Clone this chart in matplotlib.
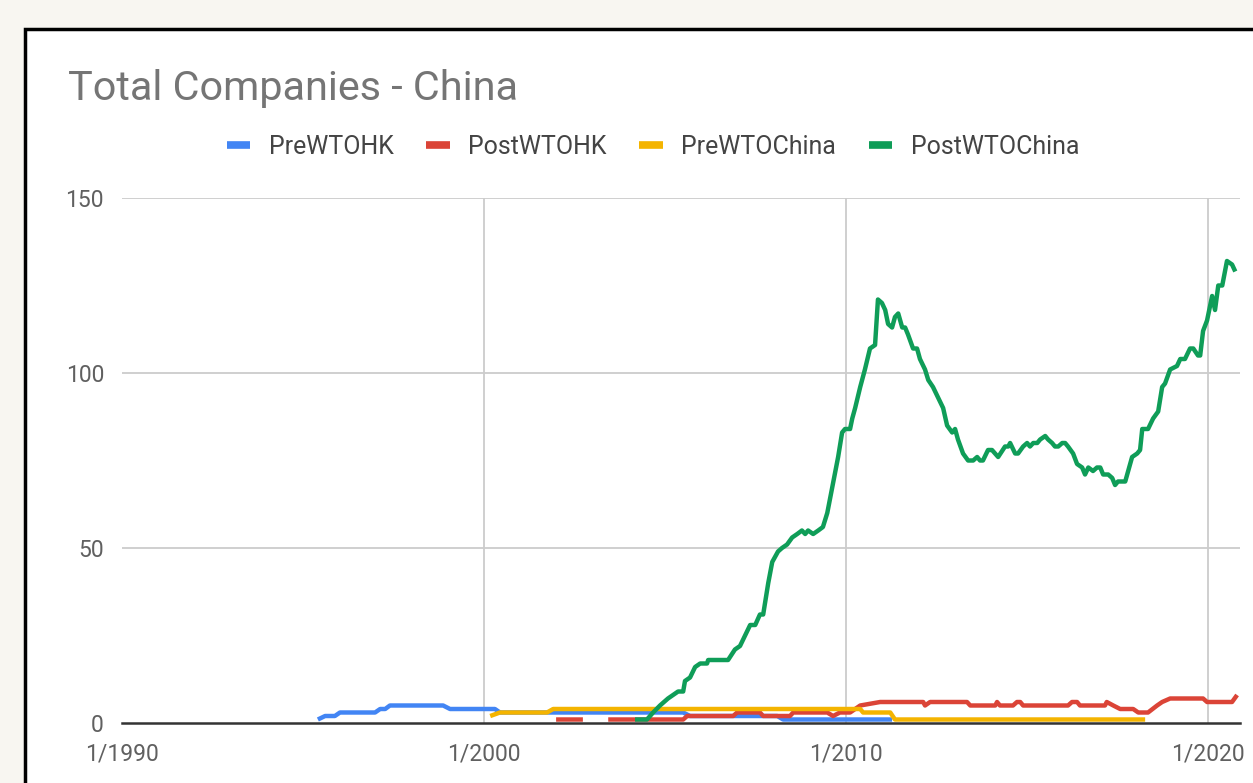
import numpy as np
import matplotlib
matplotlib.use("Agg")
import matplotlib.pyplot as plt
from matplotlib.patches import Rectangle

# === DATA (decimal years, number of companies) ===
nan = np.nan

pre_hk_years = [1995.41, 1995.61, 1995.88, 1996.02, 1996.99, 1997.13, 1997.27, 1997.40,
                1998.87, 1999.06, 2000.30, 2000.44, 2005.50, 2005.69, 2008.10, 2008.26,
                2011.27]
pre_hk_vals = [1, 2, 2, 3, 3, 4, 4, 5,
               5, 4, 4, 3, 3, 2, 2, 1,
               1]

post_hk_years = [2001.99, 2002.73, 2003.0, 2003.43, 2005.50, 2005.61, 2006.88, 2006.99,
                 2007.62, 2007.71, 2008.45, 2008.54, 2009.48, 2009.64, 2009.83, 2010.11,
                 2010.39, 2010.94, 2012.13, 2012.18, 2012.32, 2013.34, 2013.43, 2014.12,
                 2014.17, 2014.25, 2014.61, 2014.72, 2014.81, 2014.89, 2016.13, 2016.24,
                 2016.38, 2016.46, 2017.15, 2017.20, 2017.38, 2017.57, 2017.93, 2018.07,
                 2018.34, 2018.59, 2018.73, 2018.95, 2019.86, 2019.97, 2020.66, 2020.80]
post_hk_vals = [1, 1, nan, 1, 1, 2, 2, 3,
                3, 2, 2, 3, 3, 2, 3, 3,
                5, 6, 6, 5, 6, 6, 5, 5,
                6, 5, 5, 6, 6, 5, 5, 6,
                6, 5, 5, 6, 5, 4, 4, 3,
                3, 5, 6, 7, 7, 6, 6, 8]

pre_cn_years = [2000.17, 2000.44, 2001.74, 2001.91, 2010.39, 2010.47, 2011.22, 2011.35,
                2018.26]
pre_cn_vals = [2, 3, 3, 4, 4, 3, 3, 1,
               1]

post_cn_years = [2004.17, 2004.50, 2004.67, 2004.86, 2005.08, 2005.36, 2005.50, 2005.55,
                 2005.69, 2005.83, 2005.97, 2006.16, 2006.19, 2006.74, 2006.93, 2007.07,
                 2007.21, 2007.35, 2007.49, 2007.62, 2007.71, 2007.82, 2007.85, 2007.96,
                 2008.12, 2008.23, 2008.37, 2008.51, 2008.65, 2008.78, 2008.87, 2008.95,
                 2009.09, 2009.23, 2009.36, 2009.48, 2009.61, 2009.78, 2009.89, 2009.97,
                 2010.11, 2010.17, 2010.25, 2010.39, 2010.52, 2010.66, 2010.80, 2010.88,
                 2010.99, 2011.08, 2011.16, 2011.27, 2011.35, 2011.44, 2011.55, 2011.63,
                 2011.71, 2011.85, 2011.96, 2012.04, 2012.18, 2012.27, 2012.40, 2012.54,
                 2012.68, 2012.79, 2012.93, 2013.01, 2013.09, 2013.23, 2013.37, 2013.51,
                 2013.62, 2013.70, 2013.78, 2013.92, 2014.03, 2014.20, 2014.39, 2014.48,
                 2014.53, 2014.67, 2014.75, 2014.89, 2015.00, 2015.08, 2015.17, 2015.28,
                 2015.36, 2015.50, 2015.58, 2015.69, 2015.77, 2015.86, 2015.97, 2016.05,
                 2016.13, 2016.27, 2016.38, 2016.52, 2016.60, 2016.69, 2016.82, 2016.93,
                 2017.02, 2017.10, 2017.24, 2017.35, 2017.43, 2017.51, 2017.71, 2017.90,
                 2018.04, 2018.12, 2018.18, 2018.34, 2018.48, 2018.62, 2018.73, 2018.81,
                 2018.95, 2019.14, 2019.23, 2019.36, 2019.50, 2019.59, 2019.72, 2019.78,
                 2019.86, 2019.97, 2020.11, 2020.19, 2020.28, 2020.39, 2020.52, 2020.66,
                 2020.75]
post_cn_vals = [1, 1, 3, 5, 7, 9, 9, 12,
                13, 16, 17, 17, 18, 18, 21, 22,
                25, 28, 28, 31, 31, 38, 40, 46,
                49, 50, 51, 53, 54, 55, 54, 55,
                54, 55, 56, 60, 67, 76, 83, 84,
                84, 87, 90, 96, 101, 107, 108, 121,
                120, 118, 114, 113, 116, 117, 113, 113,
                111, 107, 107, 104, 101, 98, 96, 93,
                90, 85, 83, 84, 81, 77, 75, 75,
                76, 75, 75, 78, 78, 76, 79, 79,
                80, 77, 77, 79, 80, 79, 80, 80,
                81, 82, 81, 80, 79, 79, 80, 80,
                79, 77, 74, 73, 71, 73, 72, 73,
                73, 71, 71, 70, 68, 69, 69, 76,
                77, 78, 84, 84, 87, 89, 96, 97,
                101, 102, 104, 104, 107, 107, 105, 105,
                112, 115, 122, 118, 125, 125, 132, 131,
                129]

series = [
    ("PreWTOHK", pre_hk_years, pre_hk_vals, "#4285F4"),
    ("PostWTOHK", post_hk_years, post_hk_vals, "#DB4437"),
    ("PreWTOChina", pre_cn_years, pre_cn_vals, "#F4B400"),
    ("PostWTOChina", post_cn_years, post_cn_vals, "#0F9D58"),
]

x_ticks = [1990, 2000, 2010, 2020]
x_labels = ["1/1990", "1/2000", "1/2010", "1/2020"]
y_ticks = [0, 50, 100, 150]

# === FIGURE ===
plt.rcParams["font.family"] = ["Roboto", "DejaVu Sans"]
W, H = 1253, 783
fig = plt.figure(figsize=(W / 100, H / 100), dpi=100, facecolor="#f8f6f1")

# white card with black border (behind everything)
card = Rectangle((25 / W, -0.2), 1.2, 1.2 - 29 / H, transform=fig.transFigure,
                 facecolor="white", edgecolor="black", linewidth=2.5, zorder=-10)
fig.patches.append(card)

ax = fig.add_axes([122 / W, 1 - 723 / H, (1240 - 122) / W, (723 - 198) / H])
ax.set_zorder(5)
ax.set_facecolor("white")
ax.set_xlim(1990, 2020.88)
ax.set_ylim(0, 150)

for y in y_ticks[1:]:
    ax.axhline(y, color="#cccccc", lw=1.3, zorder=1)
for x in x_ticks[1:]:
    ax.axvline(x, color="#cccccc", lw=1.3, zorder=1)
ax.axhline(0, color="#333333", lw=1.8, zorder=2, clip_on=False)

for name, xs, ys, col in series:
    ax.plot(xs, ys, color=col, lw=3.2, label=name, zorder=3,
            solid_joinstyle="round", solid_capstyle="butt")

for s in ax.spines.values():
    s.set_visible(False)
ax.set_xticks(x_ticks)
ax.set_xticklabels(x_labels)
ax.set_yticks(y_ticks)
ax.tick_params(length=0, labelsize=16.5, labelcolor="#606060")
ax.tick_params(axis="x", pad=14)
ax.tick_params(axis="y", pad=13)

fig.text(68 / W, 1 - 88 / H, "Total Companies - China", fontsize=29.8,
         color="#757575", va="center", ha="left")

handles, labels = ax.get_legend_handles_labels()
leg = fig.legend(handles, labels, loc="center", bbox_to_anchor=(653 / W, 1 - 147 / H),
                 ncol=4, frameon=False, fontsize=17.9, handlelength=0.95,
                 handletextpad=0.75, columnspacing=1.3)
for line in leg.get_lines():
    line.set_linewidth(5.5)
for t in leg.get_texts():
    t.set_color("#444444")

fig.savefig("out.png", dpi=100, facecolor=fig.get_facecolor())
